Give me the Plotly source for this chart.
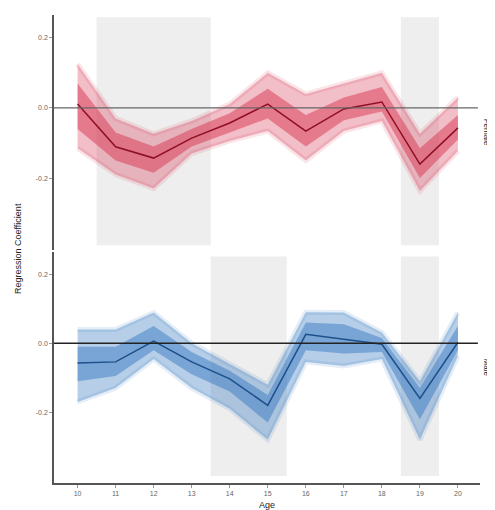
import plotly.graph_objects as go
from plotly.subplots import make_subplots

ages = [10, 11, 12, 13, 14, 15, 16, 17, 18, 19, 20]

female_mid = [0.011, -0.111, -0.143, -0.086, -0.043, 0.011, -0.066, -0.003, 0.017, -0.160, -0.057]
female_hi = [0.125, -0.030, -0.074, -0.037, 0.011, 0.100, 0.040, 0.069, 0.100, -0.074, 0.030]
female_lo = [-0.115, -0.190, -0.230, -0.130, -0.094, -0.066, -0.150, -0.066, -0.037, -0.237, -0.123]
female_in_hi = [0.070, -0.070, -0.110, -0.060, -0.015, 0.055, -0.020, 0.030, 0.060, -0.115, -0.020]
female_in_lo = [-0.060, -0.150, -0.185, -0.110, -0.070, -0.030, -0.110, -0.035, -0.010, -0.200, -0.090]

male_mid = [-0.057, -0.054, 0.006, -0.054, -0.103, -0.180, 0.026, 0.011, -0.003, -0.160, 0.003]
male_hi = [0.040, 0.040, 0.089, 0.000, -0.060, -0.120, 0.090, 0.089, 0.031, -0.110, 0.089]
male_lo = [-0.170, -0.130, -0.046, -0.130, -0.190, -0.280, -0.054, -0.066, -0.046, -0.280, -0.037]
male_in_hi = [-0.010, -0.010, 0.050, -0.025, -0.080, -0.150, 0.060, 0.055, 0.015, -0.130, 0.050]
male_in_lo = [-0.110, -0.095, -0.020, -0.090, -0.140, -0.230, -0.020, -0.030, -0.025, -0.220, -0.020]

female_windows = [(10.5, 13.5), (18.5, 19.5)]
male_windows = [(13.5, 15.5), (18.5, 19.5)]

y_ticks = [-0.2, 0.0, 0.2]
y_tick_text = ["-0.2", "0.0", "0.2"]

fig = make_subplots(rows=2, cols=1, shared_xaxes=True, vertical_spacing=0.004)

def add_band(row, hi, lo, color, opacity, halo=0.0):
    edge = dict(width=5, color=color.format(halo)) if halo else dict(width=0)
    fig.add_trace(go.Scatter(x=ages, y=hi, mode="lines", line=edge,
                             showlegend=False, hoverinfo="skip"), row=row, col=1)
    fig.add_trace(go.Scatter(x=ages, y=lo, mode="lines", line=edge,
                             fill="tonexty", fillcolor=color.format(opacity),
                             showlegend=False, hoverinfo="skip"), row=row, col=1)

red = "rgba(212,40,70,{})"
blue = "rgba(45,115,190,{})"

add_band(1, female_hi, female_lo, red, 0.30, halo=0.12)
add_band(1, female_in_hi, female_in_lo, red, 0.45)
fig.add_trace(go.Scatter(x=ages, y=female_mid, mode="lines",
                         line=dict(color="#8e0f25", width=1.5), showlegend=False), row=1, col=1)

add_band(2, male_hi, male_lo, blue, 0.35, halo=0.12)
add_band(2, male_in_hi, male_in_lo, blue, 0.45)
fig.add_trace(go.Scatter(x=ages, y=male_mid, mode="lines",
                         line=dict(color="#1d4f8a", width=1.5), showlegend=False), row=2, col=1)

for (a, b) in female_windows:
    fig.add_shape(type="rect", xref="x", yref="y domain", x0=a, x1=b, y0=0.02, y1=0.99,
                  fillcolor="#eeeeee", line_width=0, layer="below")
for (a, b) in male_windows:
    fig.add_shape(type="rect", xref="x2", yref="y2 domain", x0=a, x1=b, y0=0.03, y1=0.98,
                  fillcolor="#eeeeee", line_width=0, layer="below")

for xr, yr, c in [("x domain", "y", "#666"), ("x2 domain", "y2", "#222")]:
    fig.add_shape(type="line", xref=xr, yref=yr, x0=0, x1=0.995, y0=0, y1=0,
                  line=dict(color=c, width=1.3), layer="above")

yax = dict(range=[-0.405, 0.265], tickvals=y_ticks, ticktext=y_tick_text,
           showgrid=False, zeroline=False, showline=True, linecolor="#555", linewidth=1.6,
           ticks="outside", ticklen=3, tickcolor="#999",
           tickfont=dict(size=7, color="#666", family="Liberation Sans"))
fig.update_yaxes(**yax)
fig.update_yaxes(domain=[0.498, 1.0], row=1, col=1)
fig.update_yaxes(domain=[0.0, 0.494], row=2, col=1)

fig.update_xaxes(range=[9.38, 20.58], tickvals=ages, showgrid=False, zeroline=False)
fig.update_xaxes(showline=False, showticklabels=False, ticks="", row=1, col=1)
fig.update_xaxes(showline=True, linecolor="#555", linewidth=1.6, ticks="outside", ticklen=3,
                 tickcolor="#999", tickfont=dict(size=7, color="#666", family="Liberation Sans"),
                 row=2, col=1)

fig.add_annotation(text="Regression Coefficient", xref="paper", yref="paper", x=-0.0845, y=0.5,
                   xanchor="center", yanchor="middle", textangle=-90, showarrow=False,
                   font=dict(size=9, color="#222", family="Liberation Sans"))
fig.add_annotation(text="Age", xref="paper", yref="paper", x=0.5, y=-0.046,
                   xanchor="center", yanchor="middle", showarrow=False,
                   font=dict(size=9, color="#222", family="Liberation Sans"))
fig.add_annotation(text="Female", xref="paper", yref="paper", x=1.016, y=0.749, textangle=90,
                   xanchor="center", yanchor="middle", showarrow=False,
                   font=dict(size=8, color="#222", family="Liberation Sans"))
fig.add_annotation(text="Male", xref="paper", yref="paper", x=1.016, y=0.247, textangle=90,
                   xanchor="center", yanchor="middle", showarrow=False,
                   font=dict(size=8, color="#222", family="Liberation Sans"))

# page body has an 8px margin, so the figure is sized to fit the window
fig.update_layout(width=487, height=502, margin=dict(l=46, r=15, t=7, b=27),
                  paper_bgcolor="white", plot_bgcolor="white", showlegend=False)

fig.write_html("out.html")
